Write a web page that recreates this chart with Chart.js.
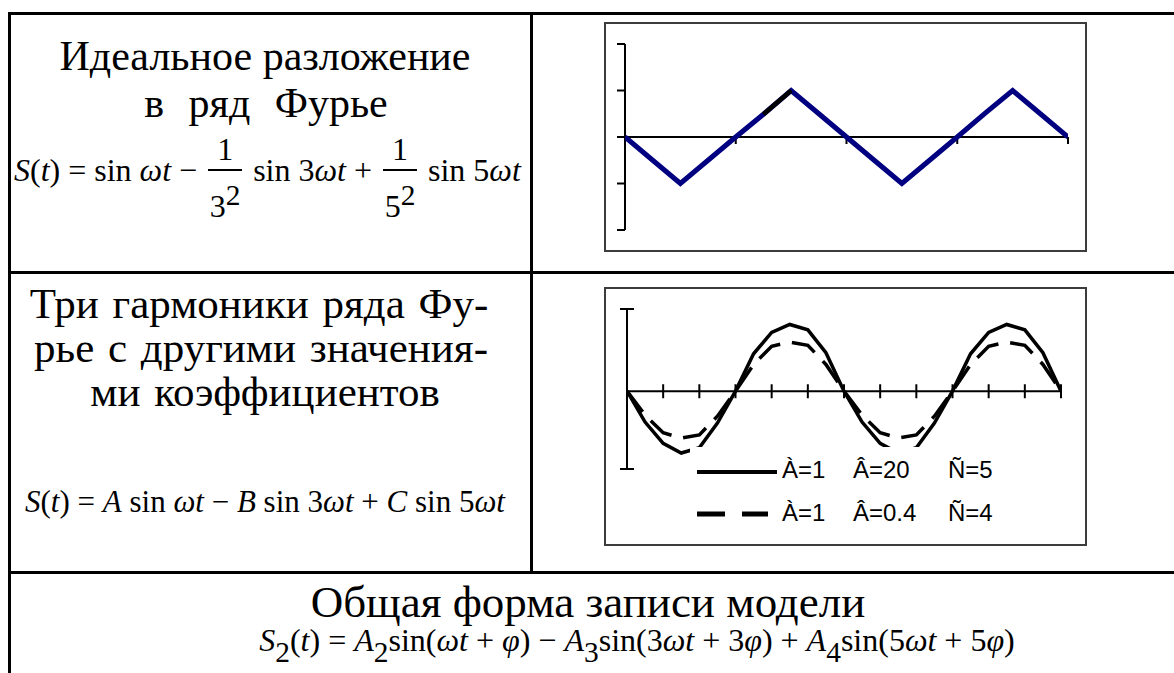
<!DOCTYPE html>
<html lang="ru">
<head>
<meta charset="utf-8">
<title>Ряд Фурье</title>
<script src="https://cdn.jsdelivr.net/npm/chart.js@4.4.1/dist/chart.umd.min.js"></script>
<style>
  html, body { margin: 0; padding: 0; background: #fff; }
  body { width: 1174px; height: 673px; position: relative; overflow: hidden;
         font-family: "Liberation Serif", "Times New Roman", serif; color: #000; }
  .rule { position: absolute; background: #000; }
  .t { position: absolute; white-space: nowrap; line-height: 1; }
  .big { font-size: 42px; }
  .ctr { transform: translateX(-50%); }
  .box { position: absolute; box-sizing: border-box; border: 2px solid #3c3c3c; background: #fff; }
  .box canvas { position: absolute; left: 0; top: 0; }
  .f { position: absolute; white-space: nowrap; line-height: 1; }
  .f i { font-style: italic; }
  .frac { display: inline-block; position: relative; width: 34px; height: 0; margin: 0 3px; }
  .frac .n, .frac .d { position: absolute; left: 0; width: 100%; text-align: center; line-height: 1; }
  .frac .n { bottom: 16px; }
  .frac .b { position: absolute; left: 0; width: 100%; top: -12px; border-top: 2px solid #000; }
  .frac .d { top: 9px; }
  .up { position: relative; top: -0.42em; font-size: 0.92em; }
  .dn { position: relative; top: 0.38em; font-size: 0.92em; }
  #legend2 { position: absolute; left: 690px; top: 447px; width: 320px; height: 90px; background: #fff; z-index: 2;
             font-family: "Liberation Sans", Arial, sans-serif; font-size: 24px; }
  #legend2 svg { position: absolute; left: 0; top: 0; }
  #legend2 span { position: absolute; line-height: 1; white-space: nowrap; }
</style>
</head>
<body>

<!-- таблица -->
<div class="rule" style="left:8px;top:12px;width:1166px;height:3px"></div>
<div class="rule" style="left:8px;top:12px;width:3px;height:661px"></div>
<div class="rule" style="left:530px;top:12px;width:3px;height:562px"></div>
<div class="rule" style="left:8px;top:271px;width:1166px;height:3px"></div>
<div class="rule" style="left:8px;top:571px;width:1166px;height:3px"></div>

<!-- строка 1 -->
<div class="t big ctr" style="left:265px;top:35px">Идеальное разложение</div>
<div class="t big ctr" style="left:266px;top:82px;word-spacing:14px">в ряд Фурье</div>
<div class="f" style="left:14px;top:120px;width:516px;height:110px;overflow:hidden;font-size:32px">
  <div style="padding-top:34px;line-height:32px">
    <i>S</i>(<i>t</i>) = sin <i>ωt</i> −
    <span class="frac"><span class="n">1</span><span class="b"></span><span class="d">3<span class="up">2</span></span></span>
    sin 3<i>ωt</i> +
    <span class="frac"><span class="n">1</span><span class="b"></span><span class="d">5<span class="up">2</span></span></span>
    sin 5<i>ωt</i> +
  </div>
</div>

<!-- строка 2 -->
<div class="t ctr" style="left:259px;top:282px;font-size:43px;word-spacing:3px">Три гармоники ряда Фу-</div>
<div class="t ctr" style="left:261px;top:326px;font-size:43px;word-spacing:3px">рье с другими значения-</div>
<div class="t ctr" style="left:265px;top:370px;font-size:43px;word-spacing:3px">ми коэффициентов</div>
<div class="f" style="left:25px;top:486px;font-size:31px">
  <i>S</i>(<i>t</i>) = <i>A</i> sin <i>ωt</i> − <i>B</i> sin 3<i>ωt</i> + <i>C</i> sin 5<i>ωt</i>
</div>

<!-- строка 3 -->
<div class="t ctr" style="left:588px;top:580px;font-size:45px">Общая форма записи модели</div>
<div class="f ctr" style="left:637px;top:624px;font-size:32px">
  <i>S</i><span class="dn">2</span>(<i>t</i>) = <i>A</i><span class="dn">2</span>sin(<i>ωt</i> + <i>φ</i>) − <i>A</i><span class="dn">3</span>sin(3<i>ωt</i> + 3<i>φ</i>) + <i>A</i><span class="dn">4</span>sin(5<i>ωt</i> + 5<i>φ</i>)
</div>

<!-- графики -->
<div class="box" style="left:604px;top:22px;width:483px;height:230px">
  <canvas id="chartIdeal" width="479" height="226"></canvas>
</div>
<div class="box" style="left:604px;top:287px;width:483px;height:259px">
  <canvas id="chartHarm" width="479" height="255"></canvas>
</div>
<div id="legend2"></div>

<script>
// ---------- данные: идеальное разложение ----------
const idealSteps  = [0, 1, 2, 3, 4, 5, 6, 7, 8, 9, 10, 11, 12, 13, 14, 15, 16];
const idealWave   = [0, -0.5, -1, -0.5, 0, 0.49, 1, 0.5, 0, -0.5, -1, -0.5, 0, 0.51, 1, 0.5, 0];
const idealBlack  = [null, null, null, null, null, 0.49, 1, null, null, null, null, null, null, null, null, null, null];
const idealXTicks = [0, 4, 8, 12, 16];
const idealYTicks = [-2, -1, 0, 1, 2];

// ---------- данные: три гармоники ----------
const harmSteps  = [0, 1, 2, 3, 4, 5, 6, 7, 8, 9, 10, 11, 12, 13, 14, 15, 16, 17, 18, 19, 20, 21, 22, 23, 24];
const harmSolid  = [0, -0.58, -0.98, -1.16, -1.06, -0.6, 0, 0.7, 1.1, 1.25, 1.15, 0.72, 0,
                    -0.58, -0.98, -1.16, -1.06, -0.6, 0, 0.7, 1.1, 1.25, 1.15, 0.72, 0];
const harmDashed = [0, -0.45, -0.78, -0.88, -0.82, -0.47, 0, 0.5, 0.84, 0.92, 0.86, 0.5, 0,
                    -0.45, -0.78, -0.88, -0.82, -0.47, 0, 0.5, 0.84, 0.92, 0.86, 0.5, 0];
const harmXTicks = [0, 2, 4, 6, 8, 10, 12, 14, 16, 18, 20, 22, 24];
const harmYTicks = [-1.46, 1.54];
const legendSolid  = ['À=1', 'Â=20', 'Ñ=5'];
const legendDashed = ['À=1', 'Â=0.4', 'Ñ=4'];

const toXY = (steps, vals) => steps.map((s, i) => ({ x: s, y: vals[i] }));

// оси, пересекающиеся в нуле (как в Excel)
const crossAxes = {
  id: 'crossAxes',
  beforeDatasetsDraw(chart, args, o) {
    const { ctx } = chart;
    const xs = chart.scales.x, ys = chart.scales.y;
    const x0 = xs.getPixelForValue(0), y0 = ys.getPixelForValue(0);
    ctx.save();
    ctx.strokeStyle = '#000';
    ctx.lineWidth = 2;
    ctx.beginPath();
    ctx.moveTo(x0, ys.top); ctx.lineTo(x0, ys.bottom);
    ys.ticks.forEach(t => {
      const p = ys.getPixelForValue(t.value);
      ctx.moveTo(x0 - o.yOut, p); ctx.lineTo(x0 + o.yIn, p);
    });
    ctx.moveTo(xs.left, y0); ctx.lineTo(xs.right, y0);
    xs.ticks.forEach(t => {
      const p = xs.getPixelForValue(t.value);
      ctx.moveTo(p, y0 - o.xUp); ctx.lineTo(p, y0 + o.xDown);
    });
    ctx.stroke();
    ctx.restore();
  }
};

function makeChart(id, steps, datasets, xTicks, yTicks, padding, axisOpts) {
  return new Chart(document.getElementById(id), {
    type: 'line',
    data: { datasets },
    options: {
      responsive: false,
      animation: false,
      events: [],
      layout: { padding },
      elements: { point: { radius: 0 }, line: { tension: 0 } },
      plugins: { legend: { display: false }, tooltip: { enabled: false }, crossAxes: axisOpts },
      scales: {
        x: { type: 'linear', display: false, min: steps[0], max: steps[steps.length - 1],
             afterBuildTicks: s => { s.ticks = xTicks.map(v => ({ value: v })); } },
        y: { type: 'linear', display: false, min: yTicks[0], max: yTicks[yTicks.length - 1],
             afterBuildTicks: s => { s.ticks = yTicks.map(v => ({ value: v })); } }
      }
    },
    plugins: [crossAxes]
  });
}

makeChart('chartIdeal', idealSteps, [
  { data: toXY(idealSteps, idealBlack), borderColor: '#000', borderWidth: 4.5, order: 0, spanGaps: false },
  { data: toXY(idealSteps, idealWave), borderColor: '#000080', borderWidth: 5, order: 1 }
], idealXTicks, idealYTicks, { left: 19, right: 17, top: 20, bottom: 20 },
   { yOut: 8, yIn: 0, xUp: 0, xDown: 7 });

makeChart('chartHarm', harmSteps, [
  { data: toXY(harmSteps, harmSolid), borderColor: '#000', borderWidth: 3.5, order: 0 },
  { data: toXY(harmSteps, harmDashed), borderColor: '#000', borderWidth: 3.5, borderDash: [26, 12], order: 1 }
], harmXTicks, harmYTicks, { left: 21, right: 24, top: 20, bottom: 75 },
   { yOut: 7, yIn: 7, xUp: 7, xDown: 7 });

// легенда поверх области построения (белая подложка, как в Excel)
const lg = document.getElementById('legend2');
lg.innerHTML =
  '<svg width="320" height="90">' +
  '<line x1="7" y1="25" x2="87" y2="25" stroke="#000" stroke-width="4"/>' +
  '<line x1="7" y1="67" x2="78" y2="67" stroke="#000" stroke-width="5" stroke-dasharray="28 17"/>' +
  '</svg>';
const colX = [92, 163, 258];
[[legendSolid, 11], [legendDashed, 54]].forEach(([row, top]) => {
  row.forEach((txt, i) => {
    const s = document.createElement('span');
    s.textContent = txt;
    s.style.left = colX[i] + 'px';
    s.style.top = top + 'px';
    lg.appendChild(s);
  });
});
</script>
</body>
</html>
